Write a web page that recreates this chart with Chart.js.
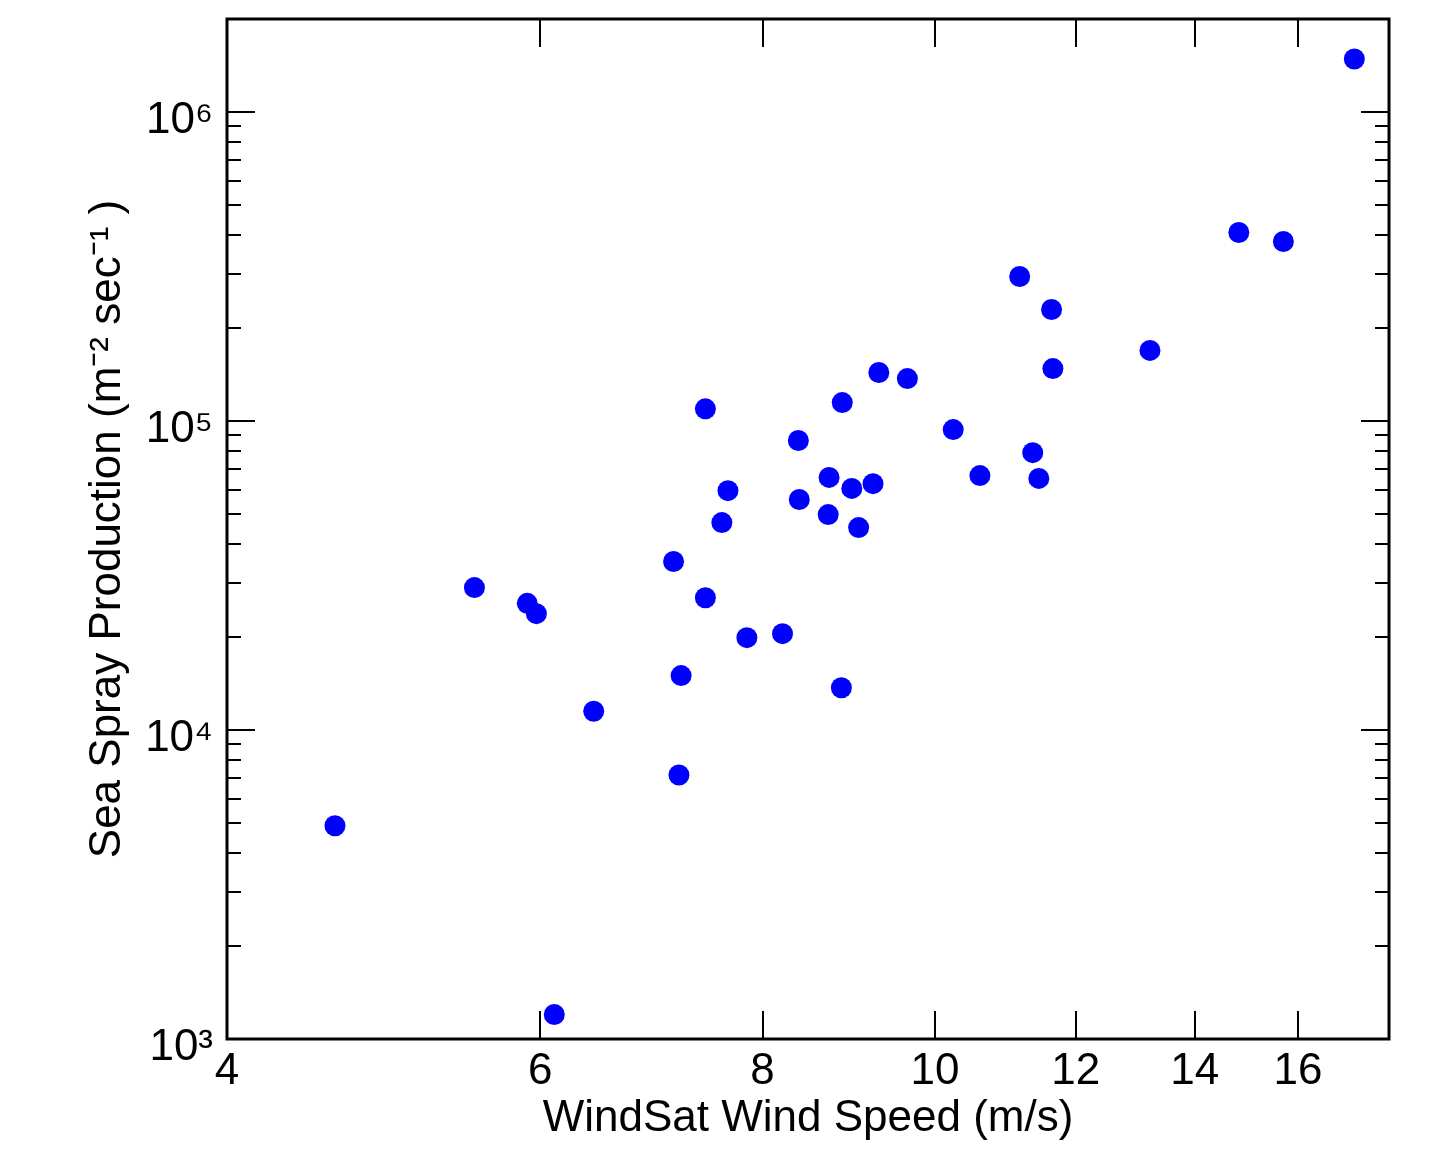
<!DOCTYPE html>
<html>
<head>
<meta charset="utf-8">
<script src="https://cdn.jsdelivr.net/npm/chart.js@4.4.0/dist/chart.umd.min.js"></script>
<style>
  html, body { margin: 0; padding: 0; background: #fff; }
  #wrap { width: 1440px; height: 1152px; position: relative; }
</style>
</head>
<body>
<div id="wrap"><canvas id="chart"></canvas></div>
<script>
// wind speed (m/s) and sea spray production
const windSpeed = [4.60, 6.11, 5.51, 5.90, 5.97, 6.43, 7.13, 7.18, 7.20, 7.43, 7.43, 7.59, 7.65,
  7.84, 8.21, 8.38, 8.39, 8.71, 8.72, 8.86, 8.87, 8.98, 9.06, 9.23, 9.30, 9.65, 10.24, 10.60,
  11.16, 11.35, 11.44, 11.63, 11.65, 13.21, 14.82, 15.70, 17.21];
const sprayProduction = [4900, 1200, 28900, 25700, 23800, 11500, 35100, 7150, 15000, 109500,
  26800, 46900, 59500, 19900, 20500, 86500, 55700, 49800, 65700, 13700, 114700, 60500, 45200,
  62700, 143500, 137200, 93800, 66600, 293500, 79000, 65200, 229500, 147800, 169200, 407500,
  381000, 1484000];

const xTicks = [4, 6, 8, 10, 12, 14, 16];
const yDecades = [1e3, 1e4, 1e5, 1e6];
const minorSteps = [2, 3, 4, 5, 6, 7, 8, 9];
const xRange = [4, 18];
const yRange = [1e3, 2e6];

const supDigits = {3: '³', 4: '⁴', 5: '⁵', 6: '⁶'};
const FONT = 'Liberation Sans, Arial, Helvetica, sans-serif';

// mirrored inward ticks + box frame
const frameTicks = {
  id: 'frameTicks',
  afterDraw(chart) {
    const { ctx, chartArea: a, scales } = chart;
    const xs = scales.x, ys = scales.y;
    ctx.save();
    ctx.strokeStyle = '#000';
    ctx.lineWidth = 2;
    ctx.beginPath();
    xTicks.forEach(v => {
      const px = Math.round(xs.getPixelForValue(v));
      ctx.moveTo(px, a.bottom); ctx.lineTo(px, a.bottom - 28);
      ctx.moveTo(px, a.top); ctx.lineTo(px, a.top + 28);
    });
    yDecades.forEach(d => {
      const py = Math.round(ys.getPixelForValue(d));
      ctx.moveTo(a.left, py); ctx.lineTo(a.left + 28, py);
      ctx.moveTo(a.right, py); ctx.lineTo(a.right - 28, py);
      minorSteps.forEach(m => {
        const v = d * m;
        if (v > yRange[1]) return;
        const pm = Math.round(ys.getPixelForValue(v));
        ctx.moveTo(a.left, pm); ctx.lineTo(a.left + 14, pm);
        ctx.moveTo(a.right, pm); ctx.lineTo(a.right - 14, pm);
      });
    });
    ctx.stroke();
    ctx.lineWidth = 3;
    ctx.strokeRect(a.left, a.top, a.right - a.left, a.bottom - a.top);
    ctx.restore();
  }
};

new Chart(document.getElementById('chart'), {
  type: 'scatter',
  data: {
    datasets: [{
      data: windSpeed.map((w, i) => ({ x: w, y: sprayProduction[i] })),
      backgroundColor: '#0000ff',
      borderWidth: 0,
      pointRadius: 10.5,
      pointHoverRadius: 10.5
    }]
  },
  options: {
    responsive: true,
    maintainAspectRatio: false,
    animation: false,
    layout: { padding: { top: 19, right: 51, left: 0, bottom: 0 } },
    plugins: { legend: { display: false }, tooltip: { enabled: false } },
    scales: {
      x: {
        type: 'logarithmic',
        min: xRange[0],
        max: xRange[1],
        grid: { display: false, drawTicks: false },
        border: { display: false },
        afterBuildTicks: s => { s.ticks = xTicks.map(v => ({ value: v })); },
        afterFit: s => { s.height = 113; s.paddingLeft = 0; s.paddingRight = 0; },
        ticks: {
          color: '#000',
          padding: 6,
          maxRotation: 0,
          font: { family: FONT, size: 44 },
          callback: v => String(v)
        },
        title: {
          display: true,
          text: 'WindSat Wind Speed (m/s)',
          color: '#000',
          font: { family: FONT, size: 44 },
          padding: { top: 0, bottom: 7 }
        }
      },
      y: {
        type: 'logarithmic',
        min: yRange[0],
        max: yRange[1],
        grid: { display: false, drawTicks: false },
        border: { display: false },
        afterBuildTicks: s => { s.ticks = yDecades.map(v => ({ value: v })); },
        afterFit: s => { s.width = 227; s.paddingTop = 0; s.paddingBottom = 0; },
        ticks: {
          color: '#000',
          padding: 14,
          labelOffset: 9,
          font: { family: FONT, size: 44 },
          callback: v => '10' + supDigits[Math.round(Math.log10(v))]
        },
        title: {
          display: true,
          text: 'Sea Spray Production (m⁻² sec⁻¹ )',
          color: '#000',
          font: { family: FONT, size: 44 },
          padding: { top: 81, bottom: 0 }
        }
      }
    }
  },
  plugins: [frameTicks]
});
</script>
</body>
</html>
